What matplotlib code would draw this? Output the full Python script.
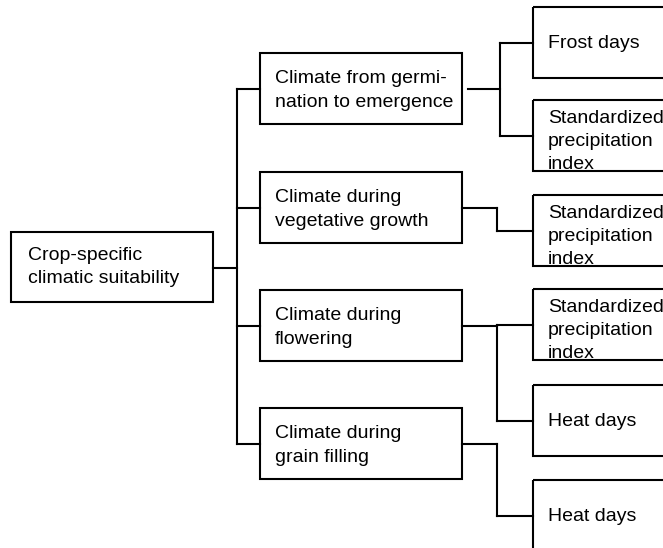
import matplotlib.pyplot as plt
from matplotlib.patches import Rectangle

# Labels of the tree
root_label = 'Crop-specific\nclimatic suitability'
stage_labels = ['Climate from germi-\nnation to emergence',
                'Climate during\nvegetative growth',
                'Climate during\nflowering',
                'Climate during\ngrain filling']
indicator_labels = ['Frost days',
                    'Standardized\nprecipitation\nindex',
                    'Standardized\nprecipitation\nindex',
                    'Standardized\nprecipitation\nindex',
                    'Heat days',
                    'Heat days']
indicator_parent = [0, 0, 1, 2, 2, 3]

# Layout (pixel units, y downwards)
root_box = (11, 232, 202, 70)
stage_x, stage_w, stage_h = 260, 202, 71
stage_tops = [53, 172, 290, 408]
ind_x, ind_w, ind_h = 533, 160, 71
ind_tops = [7, 100, 195, 289, 385, 480]
trunk_x = 237
elbow_x = [500, 497, 497, 497]

plt.rcParams['font.family'] = ['Liberation Sans', 'DejaVu Sans']
fig = plt.figure(figsize=(6.63, 5.48), dpi=100)
ax = fig.add_axes([0, 0, 1, 1])
ax.set_xlim(0, 663)
ax.set_ylim(548, 0)
ax.axis('off')

lw = 1.5
fs = 14
ls = 1.47

def box(x, y, w, h):
    ax.add_patch(Rectangle((x, y), w, h, fill=False, edgecolor='black', lw=lw))

def line(xs, ys):
    ax.plot(xs, ys, color='black', lw=lw, solid_capstyle='projecting')

# Root
rx, ry, rw, rh = root_box
box(rx, ry, rw, rh)
ax.text(rx + 17, ry + rh / 2, root_label, fontsize=fs, va='center', ha='left', linespacing=ls)
root_y = ry + rh / 2 + 0.5
line([rx + rw, trunk_x], [root_y, root_y])

# Stages
stage_mid = [t + stage_h / 2 for t in stage_tops]
line([trunk_x, trunk_x], [stage_mid[0], stage_mid[-1]])
for i, lab in enumerate(stage_labels):
    box(stage_x, stage_tops[i], stage_w, stage_h)
    line([trunk_x, stage_x], [stage_mid[i], stage_mid[i]])
    ax.text(stage_x + 15, stage_mid[i] + 2, lab, fontsize=fs, va='center', ha='left', linespacing=ls)

# Indicators
ind_mid = [t + ind_h / 2 for t in ind_tops]
for j, lab in enumerate(indicator_labels):
    box(ind_x, ind_tops[j], ind_w, ind_h)
    line([elbow_x[indicator_parent[j]], ind_x], [ind_mid[j], ind_mid[j]])
    if lab.count('\n') > 0:
        ax.text(ind_x + 15, ind_tops[j] + 10, lab, fontsize=fs, va='top', ha='left', linespacing=ls)
    else:
        ax.text(ind_x + 15, ind_mid[j] + 1, lab, fontsize=fs, va='center', ha='left')

# Stage -> indicator connectors
for i in range(len(stage_labels)):
    kids = [ind_mid[j] for j in range(len(indicator_labels)) if indicator_parent[j] == i]
    start = stage_x + stage_w + (6 if i == 0 else 0)
    line([start, elbow_x[i]], [stage_mid[i], stage_mid[i]])
    ys = kids + [stage_mid[i]]
    line([elbow_x[i], elbow_x[i]], [min(ys), max(ys)])

fig.savefig('out.png', dpi=100)
